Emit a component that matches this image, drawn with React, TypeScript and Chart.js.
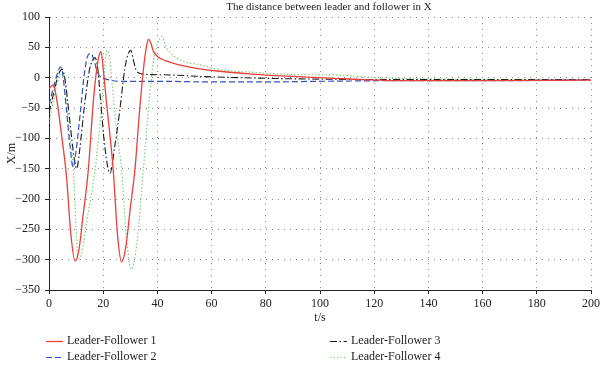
import React, { useEffect, useRef } from 'react';
import { Chart, registerables } from 'chart.js';

Chart.register(...registerables);

const chartTitle = 'The distance between leader and follower in X';
const xTitle = 't/s';
const yTitle = 'X/m';
const seriesNames = ['Leader-Follower 1', 'Leader-Follower 2', 'Leader-Follower 3', 'Leader-Follower 4'];

// Leader-Follower 1 (red, solid)
const t1 = [0, 1.6, 3, 4.5, 6.5, 8, 9.6, 11, 12.5, 14.5, 16.4, 17.5, 18.4, 19.2, 20, 21.2, 23.7, 25.3, 26.8, 28.3, 30, 31.7, 33.5, 35, 36, 36.7, 37.5, 38.5, 40, 43, 48, 55, 62, 75, 90, 100, 115, 130, 160, 200];
const v1 = [-18, -12, -40, -90, -165, -255, -302, -285, -230, -152, -37, 10, 35, 43, 15, -40, -152, -260, -304, -280, -215, -152, -50, 20, 52, 63, 58, 44, 35, 28, 21, 15, 11, 6, 2, 0, -3, -5, -5, -4];

// Leader-Follower 2 (blue, dashed)
const t2 = [0, 2, 3.5, 4.2, 5, 6.5, 7.8, 8.9, 10, 11.5, 13, 14.4, 15.5, 16.5, 17.8, 18.8, 20, 22.5, 26, 40, 60, 80, 100, 130, 160, 200];
const v2 = [-45, -10, 12, 18, 8, -56, -115, -148, -120, -60, 5, 37, 40, 30, 10, 2, -1, -4, -6, -6, -7, -7, -6, -5, -5, -4];

// Leader-Follower 3 (black, dash-dot)
const t3 = [0, 2, 3.5, 4.8, 5.8, 7.7, 9.2, 10.2, 11.3, 13, 14.8, 16, 17, 18, 18.8, 20.5, 22.5, 24.2, 26, 28, 29.3, 30.2, 31, 32, 33.6, 38, 45, 56, 70, 92, 120, 160, 200];
const v3 = [-58, -20, 5, 14, 0, -72, -130, -150, -120, -50, 10, 28, 33, 15, -25, -110, -158, -115, -58, 15, 40, 45, 32, 14, 7, 5, 4.5, 2, 0, -2, -3, -3, -3];

// Leader-Follower 4 (green, dotted)
const t4 = [0, 1.5, 3, 4.8, 5.8, 7, 8, 9, 10, 10.8, 12, 14, 17, 19.6, 20.8, 21.5, 22.3, 23.5, 25.3, 26.8, 28.5, 30.5, 32.5, 34.8, 37, 38.5, 40, 41.7, 43, 45, 49, 56, 62, 75, 92, 105, 121, 140, 170, 200];
const v4 = [-75, -40, -10, 8, 0, -66, -110, -150, -250, -300, -290, -235, -152, -37, 30, 45, 35, -20, -100, -152, -260, -316, -270, -152, -37, 25, 55, 68, 52, 40, 28, 21, 14, 9, 5, 4.5, 0, -2, -3, -3];

const xTickStep = 20;
const yTickStep = 50;

const FONT = '"Liberation Serif", "DejaVu Serif", serif';

const colors = ['#e8403a', '#3553b8', '#1c1c1c', '#7ccf7c'];
const dashes: number[][] = [[], [6, 3], [7, 2.5, 1.5, 2.5], [1.5, 2]];
const widths = [1.3, 1.2, 1.1, 1.2];

export default function App() {
  const ref = useRef<HTMLCanvasElement>(null);

  useEffect(() => {
    document.body.style.margin = '0';
    const canvas = ref.current;
    if (!canvas) return;
    const mk = (t: number[], v: number[]) => t.map((x, i) => ({ x, y: v[i] }));
    const all = [mk(t1, v1), mk(t2, v2), mk(t3, v3), mk(t4, v4)];

    const overlay = {
      id: 'overlay',
      afterDraw(chart: any) {
        const { ctx, chartArea } = chart;
        ctx.save();
        ctx.fillStyle = '#222';
        ctx.font = `11px ${FONT}`;
        ctx.textAlign = 'center';
        ctx.textBaseline = 'middle';
        ctx.fillText(chartTitle, (chartArea.left + chartArea.right) / 2 + 9, 7);
        ctx.font = `12px ${FONT}`;
        ctx.textAlign = 'left';
        const items = [
          { i: 0, x: 46, y: 341 },
          { i: 2, x: 330, y: 341 },
          { i: 1, x: 46, y: 357 },
          { i: 3, x: 330, y: 357 },
        ];
        items.forEach(({ i, x, y }) => {
          ctx.save();
          ctx.strokeStyle = colors[i];
          ctx.lineWidth = widths[i];
          ctx.setLineDash(dashes[i]);
          ctx.beginPath();
          ctx.moveTo(x, y + 0.5);
          ctx.lineTo(x + 17, y + 0.5);
          ctx.stroke();
          ctx.restore();
          ctx.fillStyle = '#222';
          ctx.fillText(seriesNames[i], x + 21, y);
        });
        ctx.restore();
      },
    };

    const tickFont = { family: FONT, size: 12 };
    const minus = (v: any) => String(v).replace('-', '\u2212');

    const chart = new Chart(canvas, {
      type: 'line',
      data: {
        datasets: all.map((d, i) => ({
          label: seriesNames[i],
          data: d,
          borderColor: colors[i],
          borderWidth: widths[i],
          borderDash: dashes[i],
          pointRadius: 0,
          fill: false,
          cubicInterpolationMode: 'monotone' as const,
        })),
      },
      options: {
        animation: false,
        responsive: false,
        devicePixelRatio: 1,
        layout: { padding: { top: 17, right: 0, left: 0, bottom: 0 } },
        plugins: {
          legend: { display: false },
          title: { display: false },
          tooltip: { enabled: false },
        },
        scales: {
          x: {
            type: 'linear',
            min: 0,
            max: 200,
            ticks: { stepSize: xTickStep, font: tickFont, color: '#222', padding: 3, maxRotation: 0, callback: minus },
            grid: { color: '#8a8a8a', tickColor: '#222', tickLength: 4, lineWidth: 1 },
            border: { color: '#222', width: 1, dash: [1, 5] },
            title: { display: true, text: xTitle, font: { family: FONT, size: 12 }, color: '#222', padding: { top: 0, bottom: 42 } },
            afterFit: (s: any) => { s.height = 77; s.paddingRight = 9; s.paddingLeft = 0; },
          },
          y: {
            type: 'linear',
            min: -350,
            max: 100,
            ticks: { stepSize: yTickStep, font: tickFont, color: '#222', padding: 5, callback: minus },
            grid: { color: '#8a8a8a', tickColor: '#222', tickLength: 4, lineWidth: 1 },
            border: { color: '#222', width: 1, dash: [1, 5] },
            title: { display: true, text: yTitle, font: { family: FONT, size: 12 }, color: '#222', padding: { top: 5, bottom: 0 } },
            afterFit: (s: any) => { s.width = 49; },
          },
        },
      },
      plugins: [overlay],
    } as any);
    return () => chart.destroy();
  }, []);

  return (
    <div style={{ width: 600, height: 367 }}>
      <canvas ref={ref} width={600} height={367} style={{ display: 'block' }} />
    </div>
  );
}
